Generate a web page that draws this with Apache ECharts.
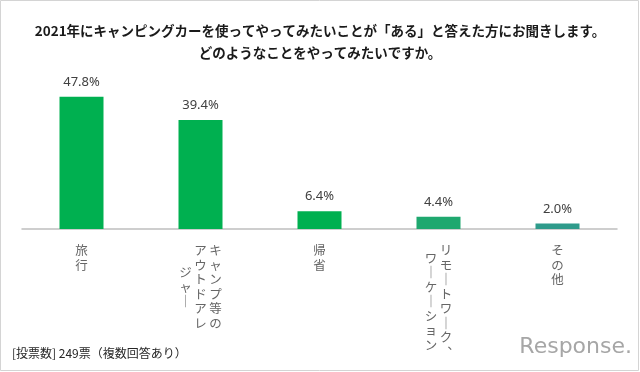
<!DOCTYPE html>
<html>
<head>
<meta charset="utf-8">
<script src="https://cdn.jsdelivr.net/npm/echarts@6/dist/echarts.min.js"></script>
<style>
  html, body { margin: 0; padding: 0; background: #ffffff; }
  #chart { width: 640px; height: 372px; }
</style>
</head>
<body>
<div id="chart"></div>
<script>
// ---- data ----
const titleLines = ['2021年にキャンピングカーを使ってやってみたいことが「ある」と答えた方にお聞きします。', 'どのようなことをやってみたいですか。'];
const categories = ['旅行', 'キャンプ等の\nアウトドアレ\nジャー', '帰省', 'リモートワーク、\nワーケーション', 'その他'];
const values = [47.8, 39.4, 6.4, 4.4, 2.0];
const footnote = '[投票数] 249票（複数回答あり）';
const logoText = 'Response.';

// ---- styles ----
const barColors = ['#00b050', '#00b050', '#00b050', '#1fa86f', '#2f9b8b'];
const verticalForms = { 'ー': '｜', '、': '︑' };

// Build vertical (tategaki) text: columns run right-to-left, shorter columns centred vertically.
function verticalLabel(label) {
  const cols = label.split('\n').map(c => Array.from(c));
  const n = Math.max(...cols.map(c => c.length));
  const rows = 2 * n;
  const grid = Array.from({ length: rows }, () => cols.map(() => '　'));
  cols.forEach((chars, ci) => {
    const off = n - chars.length;
    chars.forEach((ch, k) => { grid[off + 2 * k][ci] = verticalForms[ch] || ch; });
  });
  return grid.map(row => row.slice().reverse().map(ch => '{c|' + ch + '}').join('')).join('\n');
}

const chart = echarts.init(document.getElementById('chart'), null, { renderer: 'canvas' });
chart.setOption({
  backgroundColor: '#ffffff',
  animation: false,
  title: {
    text: titleLines.join('\n'),
    left: 'center',
    top: 15,
    textStyle: {
      fontFamily: '"Noto Sans CJK JP", sans-serif',
      fontSize: 13.5,
      fontWeight: 'bold',
      color: '#1a1a1a',
      lineHeight: 22
    }
  },
  grid: { left: 22, right: 23, top: 63, bottom: 143 },
  xAxis: {
    type: 'category',
    data: categories,
    axisLine: { lineStyle: { color: '#bfbfbf', width: 1.5 } },
    axisTick: { show: false },
    axisLabel: {
      interval: 0,
      margin: 18,
      formatter: verticalLabel,
      rich: {
        c: {
          fontFamily: '"Noto Sans CJK JP", sans-serif',
          fontSize: 12.5,
          color: '#666666',
          lineHeight: 7.25,
          width: 15,
          align: 'center'
        }
      }
    }
  },
  yAxis: {
    type: 'value',
    min: 0,
    max: 60,
    show: false,
    splitLine: { show: false }
  },
  series: [{
    type: 'bar',
    data: values.map((v, i) => ({ value: v, itemStyle: { color: barColors[i] } })),
    barWidth: 44,
    label: {
      show: true,
      position: 'top',
      distance: 8,
      formatter: p => p.value.toFixed(1) + '%',
      fontFamily: '"Noto Sans", "Open Sans", sans-serif',
      fontSize: 13,
      color: '#404040'
    }
  }],
  graphic: [
    {
      type: 'rect',
      shape: { x: 0.5, y: 0.5, width: 638, height: 370 },
      style: { fill: 'none', stroke: '#d4d4d4', lineWidth: 1 },
      silent: true
    },
    {
      type: 'text',
      left: 12,
      top: 347,
      style: {
        text: footnote,
        fontFamily: '"Noto Sans CJK JP", sans-serif',
        fontSize: 12,
        fill: '#262626'
      }
    },
    {
      type: 'text',
      right: 8,
      top: 336,
      style: {
        text: logoText,
        fontFamily: '"DejaVu Sans", sans-serif',
        fontSize: 22,
        fill: '#a6a6a6'
      }
    }
  ]
});
</script>
</body>
</html>
